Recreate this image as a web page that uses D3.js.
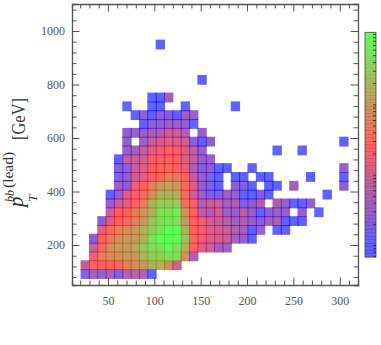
<!DOCTYPE html>
<html>
<head>
<meta charset="utf-8">
<script src="https://cdn.jsdelivr.net/npm/d3@7"></script>
<style>
  html, body { margin: 0; padding: 0; background: #fff; }
  svg { display: block; }
  text { font-family: "Liberation Serif", serif; fill: #333; }
</style>
</head>
<body>
<div id="chart"></div>
<script>
// bin edges of the first cell and bin widths
const xBinStart = 21, xBinWidth = 9;
const yBinStart = 75, yBinWidth = 33;

const xTicks = [50, 100, 150, 200, 250, 300];
const yTicks = [200, 400, 600, 800, 1000];
const barTicks = [0.7, 0.8, 0.9, 1, 2, 3, 4, 5, 6, 7, 8, 9, 10, 20, 30, 40, 50, 60, 70, 80, 90,
    100, 200, 300, 400, 500, 600, 700, 800, 900, 1000];

// counts per bin, one array per pT row from the bottom, index = mass column, 0 = empty
const counts = [
    [2, 4, 3, 5, 2, 5, 6, 5, 1],
    [7, 28, 27, 27, 35, 55, 75, 100, 170, 170, 70, 10],
    [0, 22, 55, 75, 75, 100, 100, 170, 300, 300, 450, 450, 70, 5],
    [0, 8, 35, 75, 100, 100, 130, 250, 450, 450, 800, 500, 170, 27, 12, 9, 4, 4],
    [0, 2, 27, 55, 75, 100, 100, 170, 450, 900, 1050, 1000, 250, 35, 18, 12, 10, 8, 4, 3, 1],
    [0, 0, 14, 35, 55, 75, 100, 170, 300, 500, 900, 900, 170, 30, 20, 12, 10, 8, 5, 4, 1, 3, 0, 1, 1],
    [0, 0, 2.5, 12, 27, 35, 55, 100, 250, 450, 500, 500, 100, 27, 18, 10, 8, 6, 4, 5, 3, 2, 4, 5, 1, 1, 1],
    [0, 0, 0, 8, 27, 27, 55, 85, 170, 450, 450, 600, 85, 27, 7, 5, 9, 4, 3, 6, 3, 1, 2.5, 3, 3, 0, 3, 0, 1],
    [0, 0, 0, 3, 8, 13, 27, 55, 170, 300, 300, 300, 40, 24, 5, 8, 8, 4, 5, 2, 2.5, 5, 0, 5, 3, 1, 1, 3],
    [0, 0, 0, 1, 3, 12, 22, 35, 75, 170, 170, 170, 35, 10, 3.5, 2, 2, 3, 3, 1, 1, 2, 1, 0, 0, 0, 0, 0, 0, 1],
    [0, 0, 0, 0, 3.5, 2.5, 18, 27, 55, 100, 130, 100, 35, 14, 3, 2, 1, 0, 2.5, 2, 1, 0, 1, 1, 0, 4, 0, 0, 0, 0, 0, 2.5],
    [0, 0, 0, 0, 2, 2.5, 10, 14, 24, 35, 55, 55, 27, 7, 3, 2, 1, 0, 1, 1, 0, 1, 1, 0, 0, 0, 0, 1, 0, 0, 0, 1],
    [0, 0, 0, 0, 2, 2.5, 9, 12, 23, 30, 35, 32, 15, 5, 2, 2.5, 1, 1, 0, 0, 1, 0, 0, 0, 0, 0, 0, 0, 0, 0, 0, 3],
    [0, 0, 0, 0, 1, 7, 8, 10, 20, 26, 28, 25, 14, 7, 3, 3],
    [0, 0, 0, 0, 0, 3, 4, 7, 13, 18, 25, 20, 12, 7, 3, 0, 0, 0, 0, 0, 0, 0, 0, 1, 0, 0, 1],
    [0, 0, 0, 0, 0, 2.5, 0, 3.5, 8, 10, 12, 12, 10, 2.5, 1, 2.5, 0, 0, 0, 0, 0, 0, 0, 0, 0, 0, 0, 0, 0, 0, 0, 1],
    [0, 0, 0, 0, 0, 2.5, 3, 3, 4, 5, 8, 9, 5, 0, 3],
    [0, 0, 0, 0, 0, 0, 0, 1, 2.5, 2.5, 3, 3, 2.5, 1],
    [0, 0, 0, 0, 0, 0, 1, 2.5, 1, 2.5, 2, 1, 3.5, 3],
    [0, 0, 0, 0, 0, 1, 0, 0, 1, 1, 0, 0, 1, 0, 0, 0, 0, 0, 1],
    [0, 0, 0, 0, 0, 0, 0, 0, 1, 1, 3.5],
    [],
    [0, 0, 0, 0, 0, 0, 0, 0, 0, 0, 0, 0, 0, 0, 1],
    [],
    [],
    [],
    [0, 0, 0, 0, 0, 0, 0, 0, 0, 1]
];

const width = 381, height = 345;
const margin = {top: 4, right: 23, bottom: 60, left: 72};
const plotW = width - margin.left - margin.right;
const plotH = height - margin.top - margin.bottom;

const svg = d3.select('#chart').append('svg')
    .attr('width', width)
    .attr('height', height);

const plot = svg.append('g')
    .attr('transform', `translate(${margin.left}, ${margin.top})`);

const xScale = d3.scaleLinear().domain([11.2, 319.7]).range([0, plotW]);
const yScale = d3.scaleLinear().domain([1101, 50.5]).range([0, plotH]);

// blue -> red -> green on a log count axis
const colorScale = d3.scaleLog()
    .domain([1, 27, 1050])
    .range(['#0000ff', '#ff0000', '#00ff00'])
    .interpolate(d3.interpolateRgb)
    .clamp(true);

// flatten the rows into cells
const cells = [];
counts.forEach(function(row, r) {
    row.forEach(function(v, c) {
        if (v > 0) cells.push({col: c, row: r, value: v});
    });
});

// cells are a bit larger than the bin so neighbours overlap into dark seams
plot.selectAll('.cell')
    .data(cells)
    .enter()
    .append('rect')
    .attr('class', 'cell')
    .attr('x', d => xScale(xBinStart + d.col * xBinWidth) - 0.5)
    .attr('y', d => yScale(yBinStart + (d.row + 1) * yBinWidth) - 0.5)
    .attr('width', xScale(xBinWidth) - xScale(0) + 1)
    .attr('height', yScale(0) - yScale(yBinWidth) + 1)
    .attr('fill', d => colorScale(d.value))
    .attr('fill-opacity', 0.62);

// frame and ticks, mirrored on all four sides
const minorX = d3.range(20, 320, 10).filter(d => !xTicks.includes(d));
const minorY = d3.range(80, 1100, 40).filter(d => !yTicks.includes(d));

function styleAxis(g, showDomain) {
    g.selectAll('.domain').attr('stroke', showDomain ? '#555' : 'none').attr('stroke-width', 1.3);
    g.selectAll('.tick line').attr('stroke', '#444').attr('stroke-width', 0.9);
}

plot.append('g').attr('transform', `translate(0, ${plotH})`)
    .call(d3.axisBottom(xScale).tickValues(minorX).tickSize(-4.5).tickFormat(''))
    .call(styleAxis, true);
plot.append('g').attr('transform', `translate(0, ${plotH})`)
    .call(d3.axisBottom(xScale).tickValues(xTicks).tickSizeInner(-7.5).tickSizeOuter(0).tickPadding(11).tickFormat(d3.format('d')))
    .call(styleAxis, false)
    .selectAll('text')
    .style('font-size', '12px')
    .style('fill', '#555')
    .style('font-family', '"Liberation Serif", serif');

plot.append('g')
    .call(d3.axisTop(xScale).tickValues(minorX).tickSize(-4.5).tickFormat(''))
    .call(styleAxis, true);
plot.append('g')
    .call(d3.axisTop(xScale).tickValues(xTicks).tickSize(-7.5).tickFormat(''))
    .call(styleAxis, false);

plot.append('g')
    .call(d3.axisLeft(yScale).tickValues(minorY).tickSize(-4.5).tickFormat(''))
    .call(styleAxis, true);
plot.append('g')
    .call(d3.axisLeft(yScale).tickValues(yTicks).tickSizeInner(-7.5).tickSizeOuter(0).tickPadding(7).tickFormat(d3.format('d')))
    .call(styleAxis, false)
    .selectAll('text')
    .style('font-size', '12px')
    .style('fill', '#555')
    .style('font-family', '"Liberation Serif", serif');

plot.append('g').attr('transform', `translate(${plotW}, 0)`)
    .call(d3.axisRight(yScale).tickValues(minorY).tickSize(-4.5).tickFormat(''))
    .call(styleAxis, true);
plot.append('g').attr('transform', `translate(${plotW}, 0)`)
    .call(d3.axisRight(yScale).tickValues(yTicks).tickSize(-7.5).tickFormat(''))
    .call(styleAxis, false);

// y axis title, pieces placed by hand since there is no TeX here
const title = svg.append('g')
    .attr('transform', 'translate(23, 207) rotate(-90)');
title.append('text').attr('x', 0).attr('y', 0)
    .style('font-size', '21px').style('font-style', 'italic').text('p');
title.append('text').attr('x', 5).attr('y', 14)
    .style('font-size', '13.5px').style('font-style', 'italic').text('T');
title.append('text').attr('x', 5).attr('y', -9)
    .style('font-size', '12px').style('font-style', 'italic').text('bb');
title.append('text').attr('x', 19).attr('y', -10)
    .style('font-size', '15.5px').text('(lead)');
title.append('text').attr('x', 67).attr('y', 2)
    .attr('textLength', 42)
    .attr('lengthAdjust', 'spacingAndGlyphs')
    .style('font-size', '19px').text('[GeV]');

// colour bar
const barX = 365, barW = 11, barTop = 32.3, barBottom = 257;
const barScale = d3.scaleLog().domain([0.675, 1057]).range([barBottom, barTop]);
const barSteps = d3.range(0, 64);
const stepH = (barBottom - barTop) / barSteps.length;

svg.append('g').selectAll('rect')
    .data(barSteps)
    .enter()
    .append('rect')
    .attr('x', barX)
    .attr('y', d => barTop + d * stepH)
    .attr('width', barW)
    .attr('height', stepH + 0.4)
    .attr('fill', d => colorScale(barScale.invert(barTop + (d + 0.5) * stepH)))
    .attr('fill-opacity', 0.62);

svg.append('rect')
    .attr('x', barX).attr('y', barTop)
    .attr('width', barW).attr('height', barBottom - barTop)
    .attr('fill', 'none')
    .attr('stroke', '#444')
    .attr('stroke-width', 0.8);

svg.append('g').attr('transform', `translate(${barX + barW}, 0)`)
    .call(d3.axisLeft(barScale).tickValues(barTicks).tickSize(3).tickFormat(''))
    .call(g => g.select('.domain').remove())
    .selectAll('.tick line').attr('stroke', '#222').attr('stroke-width', 0.8);
</script>
</body>
</html>
